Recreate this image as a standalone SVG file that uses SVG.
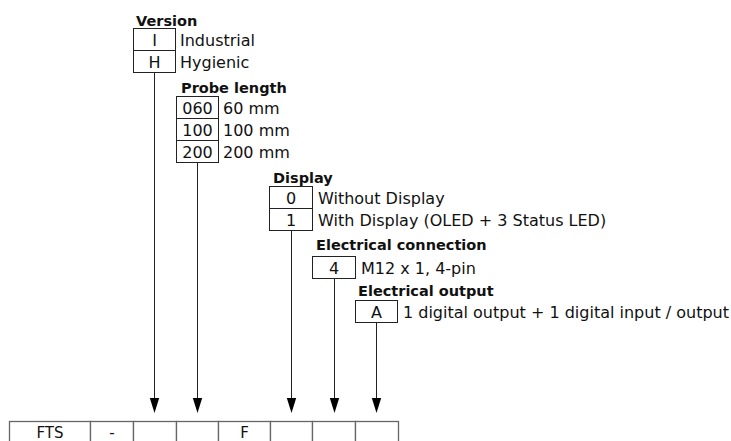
<svg xmlns="http://www.w3.org/2000/svg" width="731" height="441" viewBox="0 0 731 441">
<style>
.lbl{font-family:"DejaVu Sans",sans-serif;font-size:14.5px;font-weight:bold;fill:#111}
.txt{font-family:"DejaVu Sans",sans-serif;font-size:16px;fill:#111}
.code{font-family:"DejaVu Sans",sans-serif;font-size:15px;fill:#111;text-anchor:middle}
.c{text-anchor:middle}
.box{fill:#fff;stroke:#222;stroke-width:1}
.cell{fill:#fff;stroke:#666;stroke-width:1.3}
.ln{stroke:#222;stroke-width:1;fill:none}
.ah{fill:#000}
</style>
<rect width="731" height="441" fill="#fff"/>
<g id="connectors">
<line class="ln" x1="154.5" y1="72.5" x2="154.5" y2="400"/>
<polygon class="ah" points="149.8,398 159.2,398 154.5,413"/>
<line class="ln" x1="197.5" y1="162.5" x2="197.5" y2="400"/>
<polygon class="ah" points="192.8,398 202.2,398 197.5,413"/>
<line class="ln" x1="291.5" y1="230.5" x2="291.5" y2="400"/>
<polygon class="ah" points="286.8,398 296.2,398 291.5,413"/>
<line class="ln" x1="334.5" y1="278.5" x2="334.5" y2="400"/>
<polygon class="ah" points="329.8,398 339.2,398 334.5,413"/>
<line class="ln" x1="376.5" y1="322.5" x2="376.5" y2="400"/>
<polygon class="ah" points="371.8,398 381.2,398 376.5,413"/>
</g>
<g id="version">
<text class="lbl" x="136" y="26">Version</text>
<rect class="box" x="133.5" y="28.5" width="42" height="22"/>
<rect class="box" x="133.5" y="50.5" width="42" height="22"/>
<text class="txt c" x="154.5" y="45.5">I</text>
<text class="txt c" x="154.5" y="67.5">H</text>
<text class="txt" x="180" y="45.5">Industrial</text>
<text class="txt" x="180" y="67.5">Hygienic</text>
</g>
<g id="probe-length">
<text class="lbl" x="181" y="93">Probe length</text>
<rect class="box" x="176.5" y="96.5" width="42" height="22"/>
<rect class="box" x="176.5" y="118.5" width="42" height="22"/>
<rect class="box" x="176.5" y="140.5" width="42" height="22"/>
<text class="txt c" x="197.5" y="113.5">060</text>
<text class="txt c" x="197.5" y="135.5">100</text>
<text class="txt c" x="197.5" y="157.5">200</text>
<text class="txt" x="223" y="113.5">60 mm</text>
<text class="txt" x="223" y="135.5">100 mm</text>
<text class="txt" x="223" y="157.5">200 mm</text>
</g>
<g id="display">
<text class="lbl" x="273" y="183">Display</text>
<rect class="box" x="269.5" y="186.5" width="43" height="22"/>
<rect class="box" x="269.5" y="208.5" width="43" height="22"/>
<text class="txt c" x="291" y="203.5">0</text>
<text class="txt c" x="291" y="225.5">1</text>
<text class="txt" x="318" y="203.5">Without Display</text>
<text class="txt" x="318" y="225.5">With Display (OLED + 3 Status LED)</text>
</g>
<g id="electrical-connection">
<text class="lbl" x="316" y="250">Electrical connection</text>
<rect class="box" x="312.5" y="256.5" width="43" height="22"/>
<text class="txt c" x="334" y="273.5">4</text>
<text class="txt" x="361" y="273.5">M12 x 1, 4-pin</text>
</g>
<g id="electrical-output">
<text class="lbl" x="358" y="296">Electrical output</text>
<rect class="box" x="355.5" y="300.5" width="42" height="22"/>
<text class="txt c" x="376.5" y="317.5">A</text>
<text class="txt" x="403" y="317.5">1 digital output + 1 digital input / output</text>
</g>
<g id="type-code">
<rect class="cell" x="9.5" y="421.5" width="81" height="30"/>
<rect class="cell" x="90.5" y="421.5" width="43" height="30"/>
<rect class="cell" x="133.5" y="421.5" width="43" height="30"/>
<rect class="cell" x="176.5" y="421.5" width="42" height="30"/>
<rect class="cell" x="218.5" y="421.5" width="52" height="30"/>
<rect class="cell" x="270.5" y="421.5" width="42" height="30"/>
<rect class="cell" x="312.5" y="421.5" width="43" height="30"/>
<rect class="cell" x="355.5" y="421.5" width="43" height="30"/>
<text class="code" x="50" y="438">FTS</text>
<text class="code" x="112" y="438">-</text>
<text class="code" x="244.5" y="438">F</text>
</g>
</svg>
